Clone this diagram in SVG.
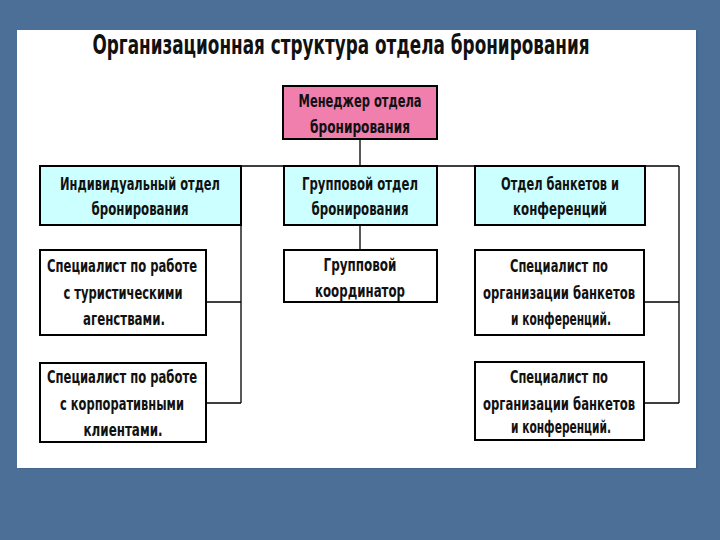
<svg xmlns="http://www.w3.org/2000/svg" width="720" height="540" viewBox="0 0 720 540">
<defs>
<style>
.t{font-family:"Liberation Sans Narrow","DejaVu Sans Condensed","Liberation Sans",sans-serif;font-weight:bold;font-size:17px;fill:#111;text-anchor:middle}
.title{font-family:"Liberation Sans Narrow","DejaVu Sans Condensed","Liberation Sans",sans-serif;font-weight:bold;font-size:26px;fill:#111;text-anchor:middle}
.box{stroke:#000;stroke-width:2}
.w{fill:#fff}
.pink{fill:#F07FAE}
.cyan{fill:#CCFFFF}
.c{stroke:#000;stroke-width:1.3;fill:none}
</style>
</defs>
<rect x="0" y="0" width="720" height="540" fill="#4C6F97"/>
<rect x="19" y="31" width="679" height="438" fill="#3a5a80" opacity="0.5"/>
<rect x="17" y="30" width="679" height="438" fill="#fff"/>
<text class="title" x="341" y="54" textLength="497" lengthAdjust="spacingAndGlyphs">Организационная структура отдела бронирования</text>
<g id="connectors">
<path class="c" d="M360 139V166M40 166H679M241 166V403M206 302H241M206 403H241M679 166V403M644 302H679M644 403H679M360 225V250"/>
</g>
<g id="manager">
<rect class="box pink" x="283" y="86" width="154" height="53"/>
<text class="t" x="360" y="107" textLength="123" lengthAdjust="spacingAndGlyphs">Менеджер отдела</text>
<text class="t" x="360" y="133" textLength="100" lengthAdjust="spacingAndGlyphs">бронирования</text>
</g>
<g id="individual">
<rect class="box cyan" x="40" y="166" width="201" height="59"/>
<text class="t" x="140" y="190" textLength="160" lengthAdjust="spacingAndGlyphs">Индивидуальный отдел</text>
<text class="t" x="140" y="215" textLength="97" lengthAdjust="spacingAndGlyphs">бронирования</text>
</g>
<g id="group">
<rect class="box cyan" x="284" y="166" width="153" height="59"/>
<text class="t" x="360" y="190" textLength="116" lengthAdjust="spacingAndGlyphs">Групповой отдел</text>
<text class="t" x="360" y="215" textLength="97" lengthAdjust="spacingAndGlyphs">бронирования</text>
</g>
<g id="banquet">
<rect class="box cyan" x="475" y="166" width="170" height="59"/>
<text class="t" x="560" y="190" textLength="118" lengthAdjust="spacingAndGlyphs">Отдел банкетов и</text>
<text class="t" x="560" y="215" textLength="94" lengthAdjust="spacingAndGlyphs">конференций</text>
</g>
<g id="spec-tourist">
<rect class="box w" x="40" y="250" width="166" height="85"/>
<text class="t" x="122" y="272" textLength="150" lengthAdjust="spacingAndGlyphs">Специалист по работе</text>
<text class="t" x="123" y="299" textLength="119" lengthAdjust="spacingAndGlyphs">с туристическими</text>
<text class="t" x="124" y="325" textLength="82" lengthAdjust="spacingAndGlyphs">агенствами.</text>
</g>
<g id="spec-corporate">
<rect class="box w" x="40" y="363" width="166" height="79"/>
<text class="t" x="122" y="383" textLength="150" lengthAdjust="spacingAndGlyphs">Специалист по работе</text>
<text class="t" x="122" y="410" textLength="124" lengthAdjust="spacingAndGlyphs">с корпоративными</text>
<text class="t" x="123" y="436" textLength="79" lengthAdjust="spacingAndGlyphs">клиентами.</text>
</g>
<g id="coordinator">
<rect class="box w" x="284" y="250" width="153" height="52"/>
<text class="t" x="360" y="271" textLength="73" lengthAdjust="spacingAndGlyphs">Групповой</text>
<text class="t" x="360" y="297" textLength="90" lengthAdjust="spacingAndGlyphs">координатор</text>
</g>
<g id="spec-banquet-1">
<rect class="box w" x="475" y="250" width="169" height="85"/>
<text class="t" x="559" y="272" textLength="98" lengthAdjust="spacingAndGlyphs">Специалист по</text>
<text class="t" x="559" y="299" textLength="152" lengthAdjust="spacingAndGlyphs">организации банкетов</text>
<text class="t" x="561" y="325" textLength="100" lengthAdjust="spacingAndGlyphs">и конференций.</text>
</g>
<g id="spec-banquet-2">
<rect class="box w" x="475" y="362" width="169" height="78"/>
<text class="t" x="559" y="383" textLength="98" lengthAdjust="spacingAndGlyphs">Специалист по</text>
<text class="t" x="559" y="410" textLength="152" lengthAdjust="spacingAndGlyphs">организации банкетов</text>
<text class="t" x="561" y="433" textLength="100" lengthAdjust="spacingAndGlyphs">и конференций.</text>
</g>
</svg>
